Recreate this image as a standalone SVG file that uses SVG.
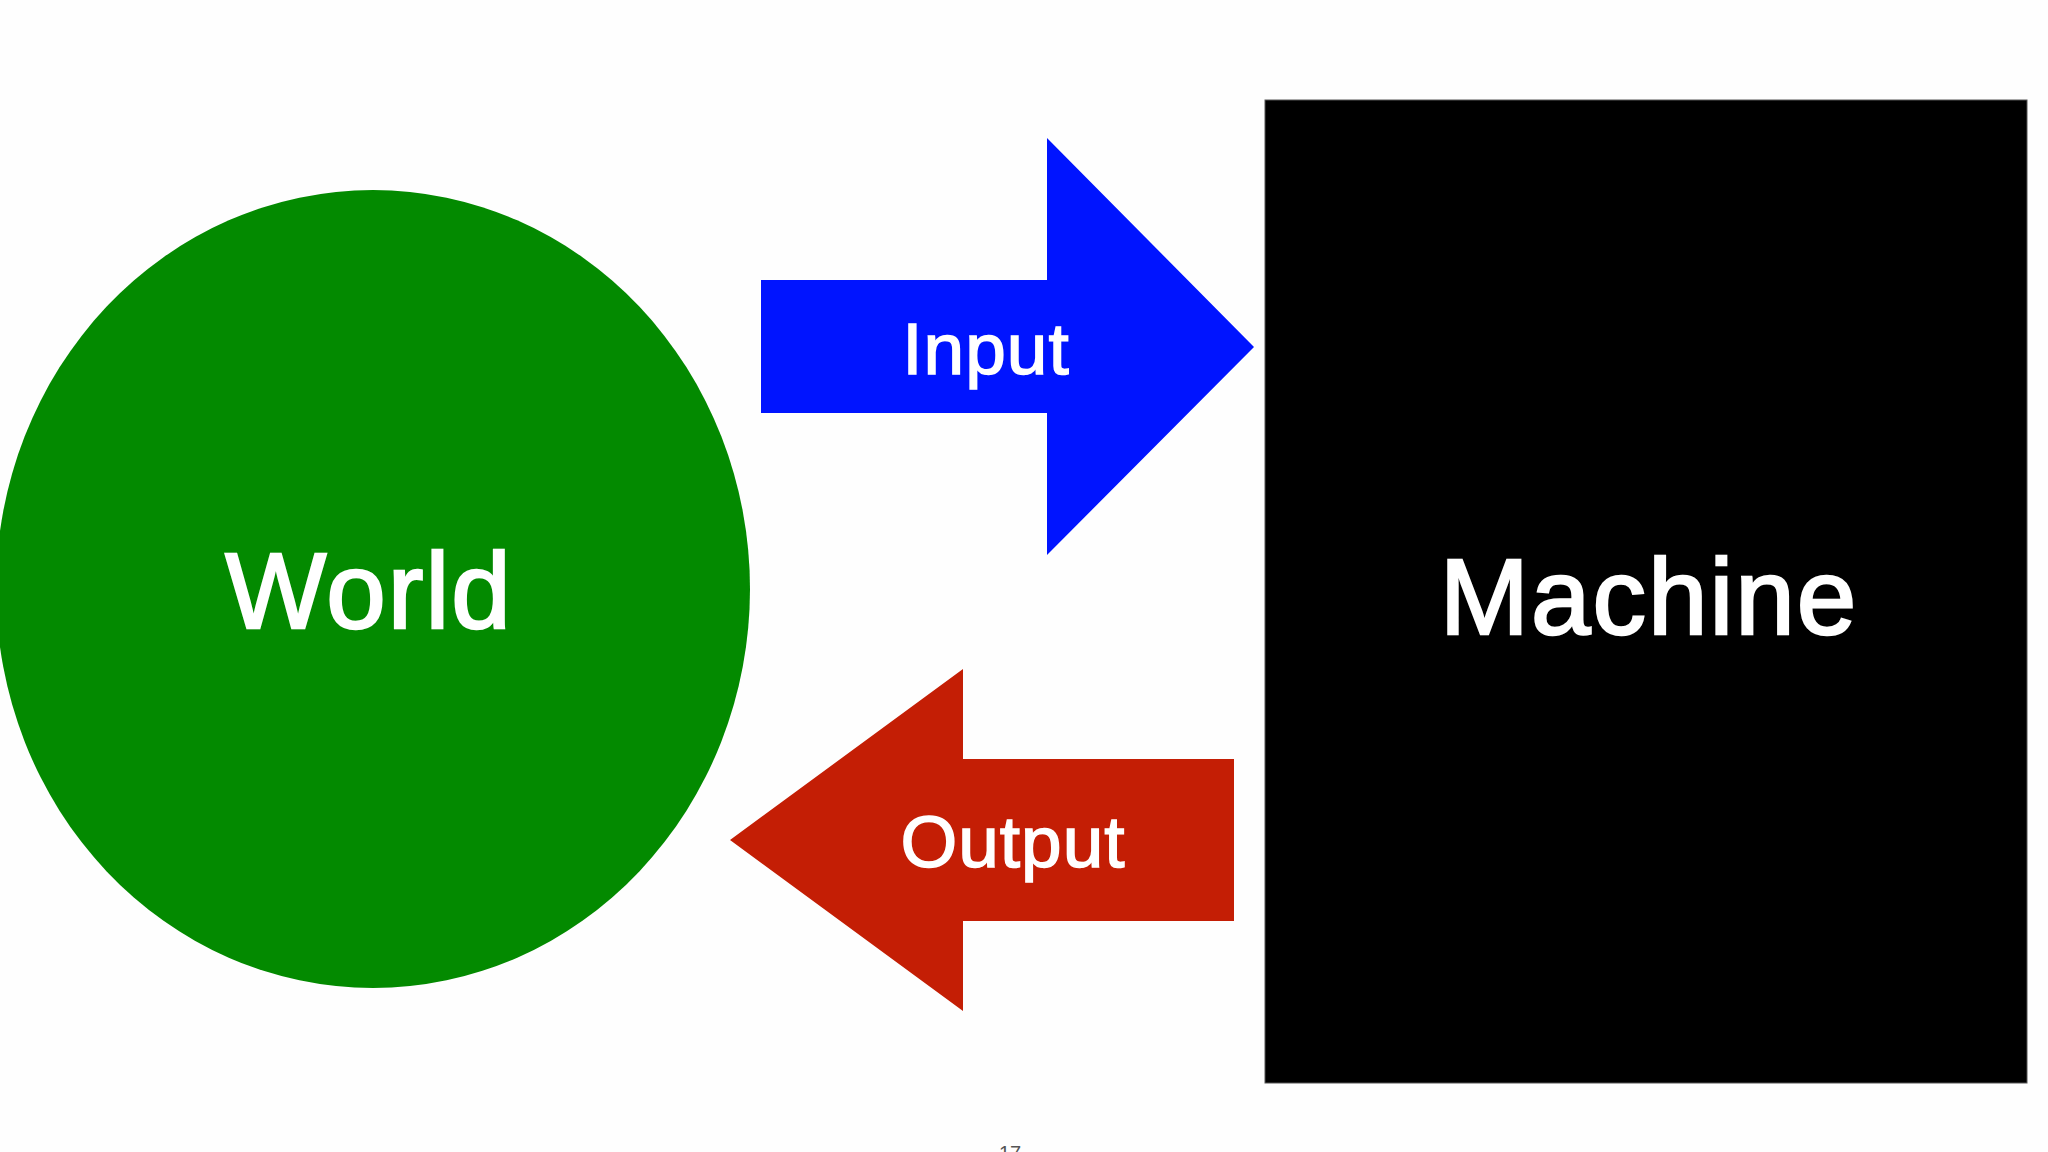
<svg xmlns="http://www.w3.org/2000/svg" width="2048" height="1152" viewBox="0 0 2048 1152">
  <style>
    .label { font-family: "Liberation Sans", Arial, Helvetica, sans-serif; fill: #ffffff; stroke: #ffffff; text-anchor: middle; }
    .big { font-size: 107px; stroke-width: 2.5px; }
    .mid { font-size: 73px; stroke-width: 1.5px; }
  </style>
  <rect x="0" y="0" width="2048" height="1152" fill="#fefefe"/>
  <g id="world">
    <ellipse cx="373" cy="589" rx="377" ry="399" fill="#038a00"/>
    <text class="label big" x="369" y="628" letter-spacing="2">World</text>
  </g>
  <g id="machine">
    <rect x="1265" y="100" width="762" height="983" fill="#000000" stroke="#555555" stroke-width="1"/>
    <text class="label big" x="1649" y="634" letter-spacing="2">Machine</text>
  </g>
  <g id="connectors">
    <g id="input">
      <polygon points="761,280 1047,280 1047,138 1254,347 1047,555 1047,413 761,413" fill="#0014ff"/>
      <text class="label mid" x="986" y="374" letter-spacing="1">Input</text>
    </g>
    <g id="output">
      <polygon points="1234,759 963,759 963,669 730,840 963,1011 963,921 1234,921" fill="#c41e05"/>
      <text class="label mid" x="1013" y="867" letter-spacing="1">Output</text>
    </g>
  </g>
  <text x="1010" y="1160" font-family="Liberation Sans, Arial, sans-serif" font-size="20" fill="#555555" text-anchor="middle">17</text>
</svg>
